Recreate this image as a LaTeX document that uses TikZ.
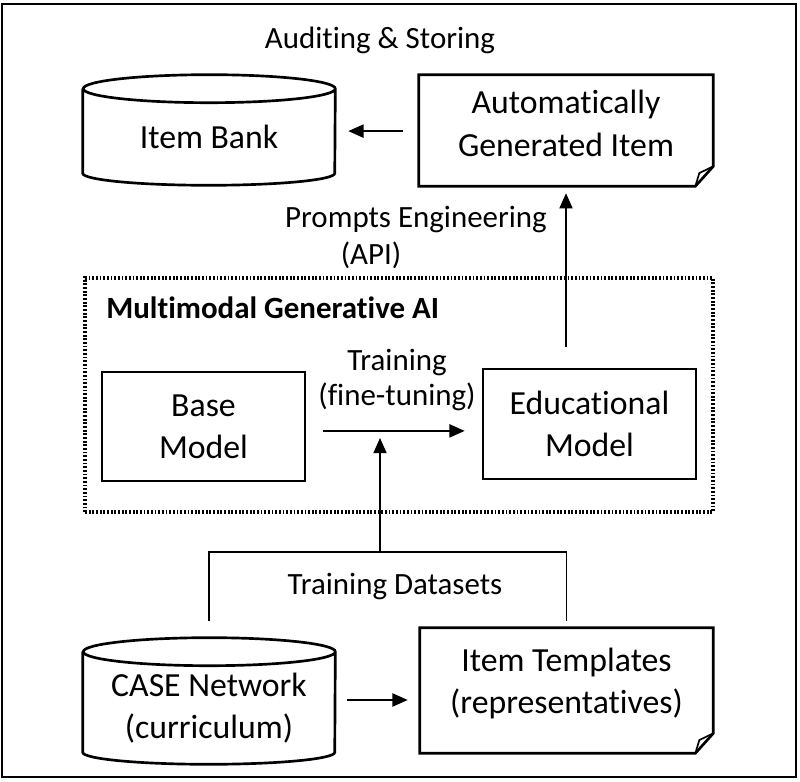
\documentclass[tikz,border=0pt]{standalone}
\usepackage{fontspec}
\setmainfont{Carlito}[Ligatures=NoCommon]
\usetikzlibrary{calc, positioning}
\usetikzlibrary{arrows.meta}

\tikzset{
    boxline/.style={line width=1.9pt},
    textbox/.style={inner sep=0pt, align=center, font=\fontsize{24}{30}\selectfont},
    lbl/.style={inner sep=0pt, align=center, font=\fontsize{22}{25}\selectfont},
    plain/.style={line width=1pt},
    flow/.style={line width=1pt, -{Triangle[length=0.38cm,width=0.33cm]}}
}

\begin{document}
\begin{tikzpicture}[x=0.025cm, y=0.025cm]
        \useasboundingbox (0,0) rectangle (800,781);
        \draw[line width=1.2pt] (2,4) rectangle (796,777);
        
        % top row
        \node[textbox, minimum width=6.3cm, minimum height=2.4cm] (bank) at (209,644) {Item Bank};
        \node[textbox, minimum width=7.35cm, minimum height=2.425cm] (autoitem) at (566,657.5) {Automatically\\Generated Item};
        \node[lbl] (audit) at (380,741) {Auditing \& Storing};
        \node[lbl] (prompts) at (416,561) {Prompts Engineering};
        \node[lbl] (api) at (371,526) {(API)};
        
        % generative AI block
        \draw[line width=2.2pt, dash pattern=on 1.3pt off 1.3pt] (85,269) rectangle (713,503);
        \node[lbl, font=\bfseries\fontsize{22}{25}\selectfont, anchor=west] (mgai) at (106,473) {Multimodal Generative AI};
        \node[textbox, draw, boxline, minimum width=5.075cm, minimum height=2.725cm] (base) at (203.5,354.5) {Base\\Model};
        \node[textbox, draw, boxline, minimum width=5.325cm, minimum height=2.75cm] (edu) at (589.5,357) {Educational\\Model};
        \node[lbl] (train) at (397,401) {Training\\(fine-tuning)};
        
        % bottom row
        \node[textbox, minimum width=6.3cm, minimum height=2.8cm] (case) at (209,73) {CASE Network\\(curriculum)};
        \node[textbox, minimum width=7.325cm, minimum height=2.775cm] (templates) at (566.5,97.5) {Item Templates\\(representatives)};
        \node[lbl] (datasets) at (395,194) {Training Datasets};
        \coordinate (join) at (380,229);
        \coordinate (tip) at (380,343);
        
        % cylinders
        \foreach \n in {bank,case}
            \draw[boxline] (\n.north west) -- ([yshift=0.3cm]\n.south west)
                arc[start angle=180, end angle=360, x radius=3.15cm, y radius=0.3cm]
                -- (\n.north east) arc[start angle=0, end angle=360, x radius=3.15cm, y radius=0.35cm];
        
        % folded notes
        \foreach \n in {autoitem,templates}{
            \draw[boxline] (\n.north west) -- (\n.north east) -- ([yshift=0.15cm]\n.south east)
                -- ([xshift=-0.45cm,yshift=-0.35cm]\n.south east) -- ([yshift=-0.35cm]\n.south west) -- cycle;
            \draw[line width=1.2pt] ([xshift=-0.45cm,yshift=-0.35cm]\n.south east)
                -- ([xshift=-0.35cm,yshift=-0.02cm]\n.south east) -- ([yshift=0.15cm]\n.south east);
        }
        
        % connectors
        \coordinate (aw) at ([yshift=-0.19cm]autoitem.west);
        \coordinate (be) at ([yshift=-0.11cm]base.east);
        \coordinate (ce) at ([yshift=0.2cm]case.east);
        \draw[flow, shorten <=0.4cm, shorten >=0.325cm] (aw) -- (aw -| bank.east);
        \draw[flow, shorten <=0.525cm, shorten >=0.525cm] (autoitem.south |- edu.north) -- (autoitem.south);
        \draw[flow, shorten <=0.425cm, shorten >=0.425cm] (be) -- (be -| edu.west);
        \draw[flow, shorten <=0.3cm, shorten >=0.3cm] (ce) -- (ce -| templates.west);
        \draw[plain, shorten <=0.775cm, shorten >=0.175cm] (case.north) |- (join) -| (templates.north);
        \draw[flow] (join) -- (tip);
\end{tikzpicture}
\end{document}
